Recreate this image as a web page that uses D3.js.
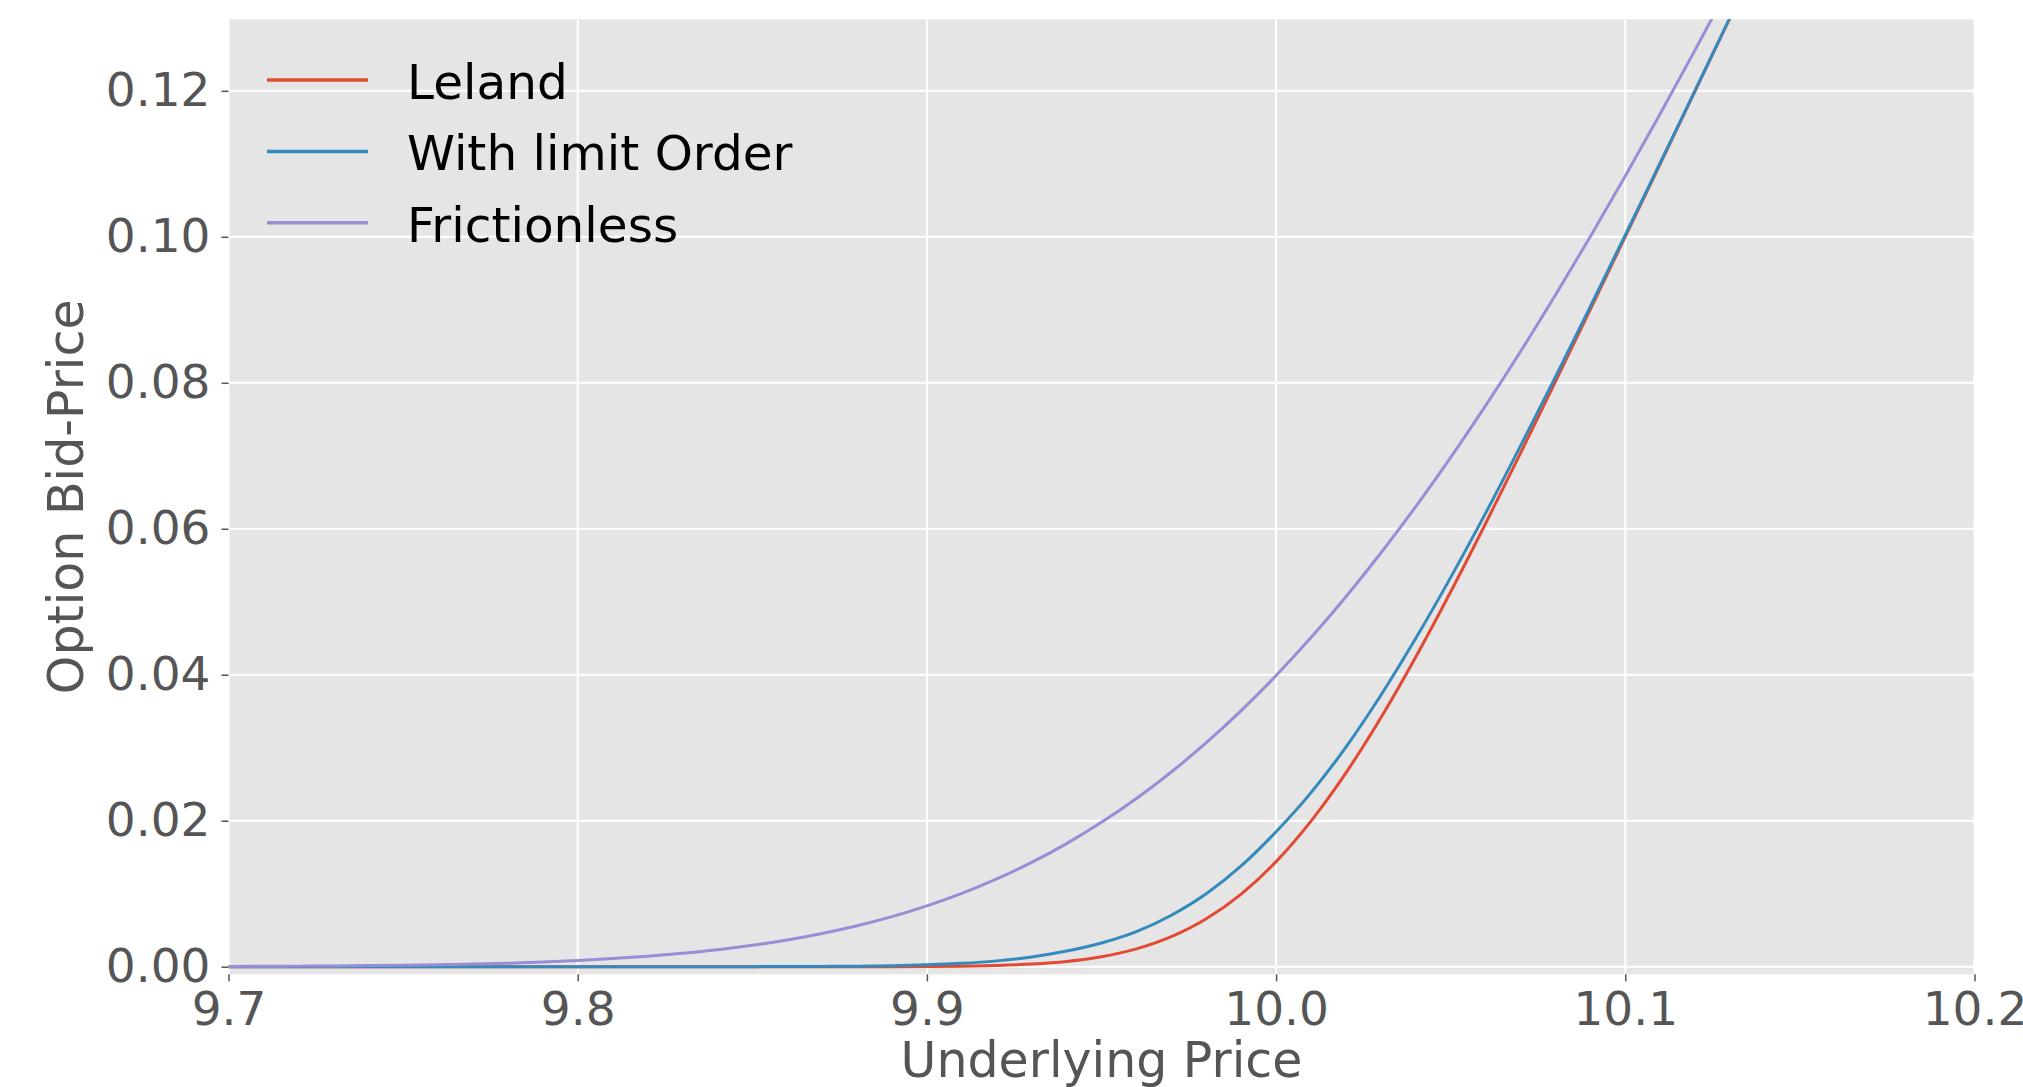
<!DOCTYPE html>
<meta charset="utf-8">
<title>option bid price</title>
<style>
  body { margin: 0; background: #fff; }
  text { font-family: "DejaVu Sans", sans-serif; }
</style>
<body>
<div class="chart"></div>
</body>
<script src="https://d3js.org/d3.v7.min.js"></script>
<script>

// data

var xs = [9.70, 9.71, 9.72, 9.73, 9.74, 9.75, 9.76, 9.77, 9.78, 9.79,
          9.80, 9.81, 9.82, 9.83, 9.84, 9.85, 9.86, 9.87, 9.88, 9.89,
          9.90, 9.91, 9.92, 9.93, 9.94, 9.95, 9.96, 9.97, 9.98, 9.99,
          10.00, 10.01, 10.02, 10.03, 10.04, 10.05, 10.06, 10.07, 10.08, 10.09,
          10.10, 10.11, 10.12, 10.13, 10.14];

var leland = [0, 0, 0, 0, 0, 0, 0, 0, 0, 0,
              0, 0, 0, 0, 0, 0, 0, 0, 0, 0.00001,
              0.00003, 0.00007, 0.00017, 0.00036, 0.00072, 0.00137, 0.00244, 0.00411, 0.00656, 0.00995,
              0.01440, 0.01995, 0.02656, 0.03411, 0.04244, 0.05137, 0.06072, 0.07036, 0.08017, 0.09007,
              0.10003, 0.11001, 0.12000, 0.13000, 0.14000];

var limitOrder = [0, 0, 0, 0, 0, 0, 0, 0, 0, 0,
                  0, 0, 0, 0, 0, 0.00001, 0.00002, 0.00004, 0.00007, 0.00014,
                  0.00026, 0.00046, 0.00080, 0.00133, 0.00214, 0.00325, 0.00480, 0.00705, 0.01000, 0.01380,
                  0.01849, 0.02385, 0.03010, 0.03720, 0.04499, 0.05334, 0.06214, 0.07135, 0.08079, 0.09048,
                  0.10025, 0.11015, 0.12006, 0.13005, 0.14001];

var frictionless = [0.00004, 0.00005, 0.00008, 0.00011, 0.00015, 0.00020, 0.00027, 0.00037, 0.00049, 0.00065,
                    0.00085, 0.00111, 0.00143, 0.00183, 0.00232, 0.00293, 0.00367, 0.00455, 0.00561, 0.00686,
                    0.00833, 0.01004, 0.01202, 0.01429, 0.01687, 0.01978, 0.02304, 0.02668, 0.03069, 0.03509,
                    0.03989, 0.04509, 0.05069, 0.05668, 0.06304, 0.06978, 0.07687, 0.08429, 0.09202, 0.10004,
                    0.10833, 0.11686, 0.12561, 0.13455, 0.14367];

var seriesNames = ["Leland", "With limit Order", "Frictionless"];
var seriesColors = ["#E24A33", "#348ABD", "#988ED5"];

var xTicks = [9.7, 9.8, 9.9, 10.0, 10.1, 10.2];
var yTicks = [0.00, 0.02, 0.04, 0.06, 0.08, 0.10, 0.12];

// figure and plot area

var W = 2023, H = 1087;
var plot = {left: 228.5, right: 1974.5, top: 19.3, bottom: 974.3};

var svg = d3.select(".chart").append("svg")
    .attr("width", W)
    .attr("height", H);

var xscale = d3.scaleLinear()
  .domain([9.7, 10.2])
  .range([plot.left, plot.right]);

var yscale = d3.scaleLinear()
  .domain([-0.00104, 0.1298])
  .range([plot.bottom, plot.top]);

svg.append("rect")
  .attr("x", plot.left)
  .attr("y", plot.top)
  .attr("width", plot.right - plot.left)
  .attr("height", plot.bottom - plot.top)
  .attr("fill", "#E5E5E5");

svg.append("clipPath")
  .attr("id", "clip")
  .append("rect")
  .attr("x", plot.left)
  .attr("y", plot.top)
  .attr("width", plot.right - plot.left)
  .attr("height", plot.bottom - plot.top);

// grid + axes

var xaxis = d3.axisBottom(xscale)
  .tickValues(xTicks)
  .tickSize(7)
  .tickPadding(10)
  .tickFormat(d3.format(".1f"));

var yaxis = d3.axisLeft(yscale)
  .tickValues(yTicks)
  .tickSize(7)
  .tickPadding(11)
  .tickFormat(d3.format(".2f"));

svg.append("g")
  .attr("class", "grid")
  .selectAll("line.gx")
  .data(xTicks)
  .enter()
  .append("line")
  .attr("x1", function(d) { return xscale(d); })
  .attr("x2", function(d) { return xscale(d); })
  .attr("y1", plot.top)
  .attr("y2", plot.bottom)
  .attr("stroke", "#fff")
  .attr("stroke-width", 2);

svg.append("g")
  .attr("class", "grid")
  .selectAll("line.gy")
  .data(yTicks)
  .enter()
  .append("line")
  .attr("x1", plot.left)
  .attr("x2", plot.right)
  .attr("y1", function(d) { return yscale(d); })
  .attr("y2", function(d) { return yscale(d); })
  .attr("stroke", "#fff")
  .attr("stroke-width", 2);

var gx = svg.append("g")
  .attr("transform", "translate(0," + plot.bottom + ")")
  .call(xaxis);

var gy = svg.append("g")
  .attr("transform", "translate(" + plot.left + ",0)")
  .call(yaxis);

[gx, gy].forEach(function(g) {
  g.select(".domain").remove();
  g.selectAll(".tick line").attr("stroke", "#555555").attr("stroke-width", 1.5);
  g.selectAll(".tick text")
    .attr("fill", "#555555")
    .style("font-size", "47px")
    .style("font-family", "DejaVu Sans");
});

gx.selectAll(".tick text").attr("dy", "0.71em");

// lines

var allSeries = [leland, limitOrder, frictionless];

var line = d3.line()
  .x(function(d) { return xscale(d[0]); })
  .y(function(d) { return yscale(d[1]); })
  .curve(d3.curveMonotoneX);

svg.append("g")
  .attr("clip-path", "url(#clip)")
  .selectAll("path")
  .data(allSeries)
  .enter()
  .append("path")
  .attr("d", function(vals) {
    return line(xs.map(function(x, i) { return [x, vals[i]]; }));
  })
  .attr("fill", "none")
  .attr("stroke", function(d, i) { return seriesColors[i]; })
  .attr("stroke-width", 3);

// legend

var legend = svg.append("g")
  .selectAll("g")
  .data(seriesNames)
  .enter()
  .append("g")
  .attr("transform", function(d, i) { return "translate(0," + (80 + i * 71.4) + ")"; });

legend.append("line")
  .attr("x1", 267)
  .attr("x2", 368)
  .attr("stroke", function(d, i) { return seriesColors[i]; })
  .attr("stroke-width", 3.5);

legend.append("text")
  .attr("x", 407)
  .attr("y", 19)
  .style("font-size", "48.5px")
  .attr("fill", "#000")
  .text(function(d) { return d; });

// axis labels

svg.append("text")
  .attr("x", (plot.left + plot.right) / 2)
  .attr("y", 1077)
  .attr("text-anchor", "middle")
  .attr("fill", "#555555")
  .style("font-size", "49px")
  .text("Underlying Price");

svg.append("text")
  .attr("transform", "translate(83," + ((plot.top + plot.bottom) / 2) + ") rotate(-90)")
  .attr("text-anchor", "middle")
  .attr("fill", "#555555")
  .style("font-size", "49px")
  .text("Option Bid-Price");

</script>
